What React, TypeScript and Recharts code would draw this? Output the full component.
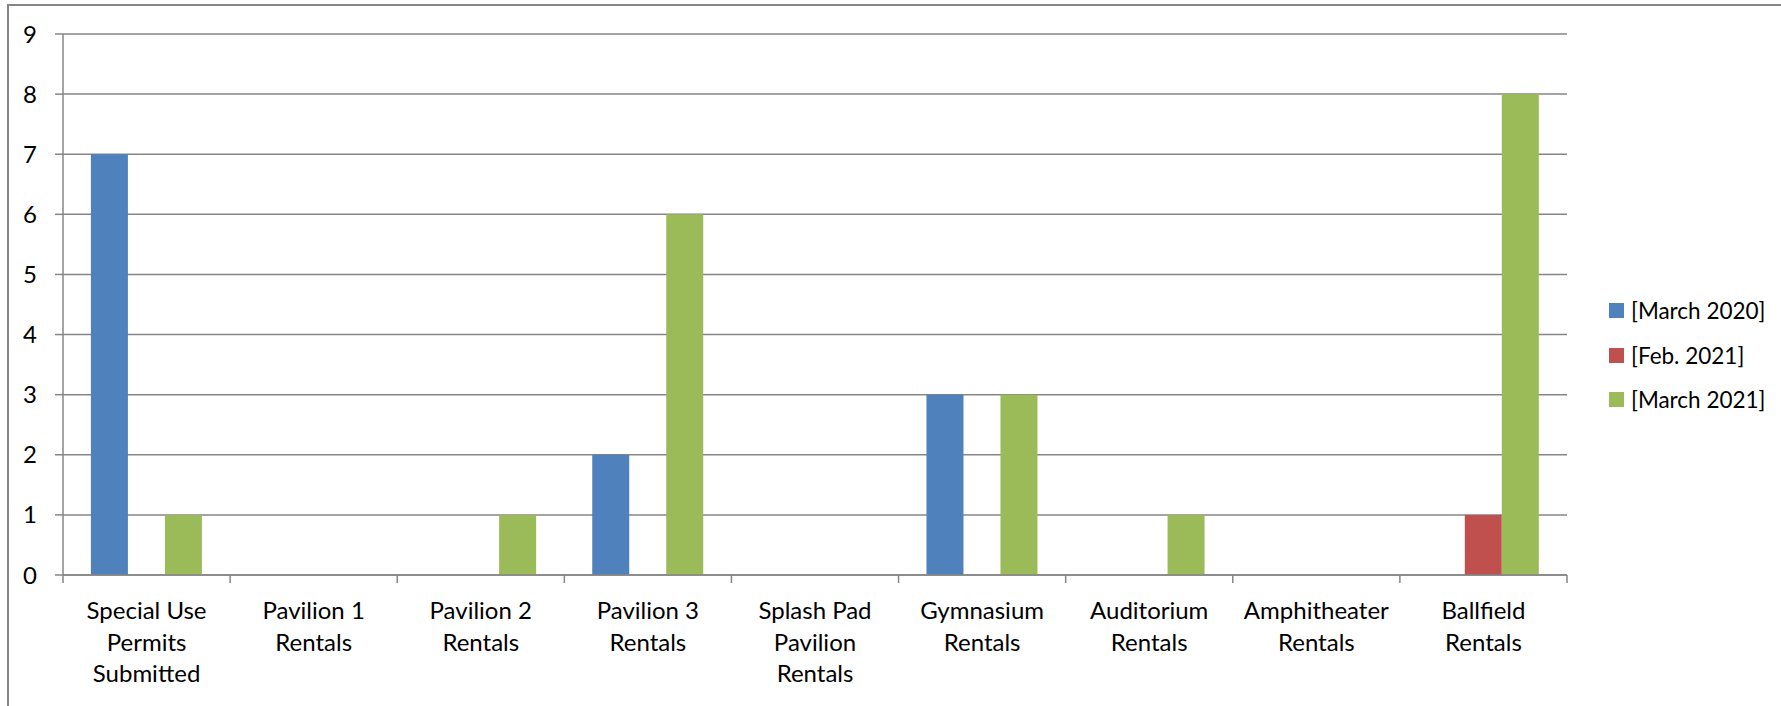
import React from 'react';
import { Bar, BarChart, CartesianGrid, XAxis, YAxis } from 'recharts';

const categories = [
    'Special Use\nPermits\nSubmitted',
    'Pavilion 1\nRentals',
    'Pavilion 2\nRentals',
    'Pavilion 3\nRentals',
    'Splash Pad\nPavilion\nRentals',
    'Gymnasium\nRentals',
    'Auditorium\nRentals',
    'Amphitheater\nRentals',
    'Ballfield\nRentals',
];
const march2020 = [7, 0, 0, 2, 0, 3, 0, 0, 0];
const feb2021 = [0, 0, 0, 0, 0, 0, 0, 0, 1];
const march2021 = [1, 0, 1, 6, 0, 3, 1, 0, 8];
const yTicks = [0, 1, 2, 3, 4, 5, 6, 7, 8, 9];

const series = [
    { key: 'march2020', name: '[March 2020]', color: '#4F81BD', values: march2020 },
    { key: 'feb2021', name: '[Feb. 2021]', color: '#C0504D', values: feb2021 },
    { key: 'march2021', name: '[March 2021]', color: '#9BBB59', values: march2021 },
];

const data = categories.map((name, i) => {
    const row: Record<string, string | number> = { name };
    series.forEach(s => { row[s.key] = s.values[i]; });
    return row;
});

const FONT = 'Lato, "Open Sans", sans-serif';
const AXIS = '#868686';
const TICK = 8;
const TICK_MARGIN = 19;
const LINE_H = 31.7;

// category labels, plus tick marks on the band edges like Excel draws them
const CategoryTick = (props: any) => {
    const { x, y, payload, index, visibleTicksCount } = props;
    const half = payload.offset || 0;
    const axisY = y - TICK - TICK_MARGIN;
    const lines = String(payload.value).split('\n');
    return (
        <g>
            <line x1={x - half} x2={x - half} y1={axisY} y2={axisY + TICK} stroke={AXIS} strokeWidth={1.5} />
            {index === visibleTicksCount - 1 && (
                <line x1={x + half} x2={x + half} y1={axisY} y2={axisY + TICK} stroke={AXIS} strokeWidth={1.5} />
            )}
            <text x={x} y={y + 16.8} textAnchor="middle" fill="#000" style={{ fontFamily: FONT, fontSize: 24 }}>
                {lines.map((l, i) => (
                    <tspan key={i} x={x} dy={i === 0 ? 0 : LINE_H}>{l}</tspan>
                ))}
            </text>
        </g>
    );
};

const App: React.FC = () => {
    return (
        <div style={{ position: 'absolute', left: 0, top: 0, width: 1781, height: 706, overflow: 'hidden', background: '#fff' }}>
            <div style={{ position: 'absolute', left: 7, top: 4, width: 1800, height: 720, border: `2px solid ${AXIS}` }} />
            <div style={{ position: 'absolute', left: 0, top: 0 }}>
                <BarChart
                    width={1781}
                    height={706}
                    data={data}
                    margin={{ top: 34, right: 214, bottom: 31, left: 13 }}
                    barCategoryGap="16.7%"
                    barGap={0}
                >
                    <CartesianGrid vertical={false} stroke={AXIS} strokeWidth={1.5} />
                    <XAxis
                        dataKey="name"
                        interval={0}
                        height={100}
                        tickSize={TICK}
                        tickMargin={TICK_MARGIN}
                        tickLine={false}
                        axisLine={{ stroke: AXIS, strokeWidth: 1.5 }}
                        tick={<CategoryTick />}
                    />
                    <YAxis
                        width={50}
                        domain={[0, 9]}
                        ticks={yTicks}
                        interval={0}
                        tickSize={TICK}
                        tickMargin={18}
                        axisLine={{ stroke: AXIS, strokeWidth: 1.5 }}
                        tickLine={{ stroke: AXIS, strokeWidth: 1.5 }}
                        tick={{ fill: '#000', fontSize: 24, fontFamily: FONT }}
                    />
                    {series.map(s => (
                        <Bar key={s.key} dataKey={s.key} name={s.name} fill={s.color} isAnimationActive={false} />
                    ))}
                </BarChart>
            </div>
            <div style={{ position: 'absolute', left: 1609, top: 288, fontFamily: FONT, fontSize: 22.5, color: '#000' }}>
                {series.map(s => (
                    <div key={s.key} style={{ display: 'flex', alignItems: 'center', height: 44.7 }}>
                        <span style={{ display: 'inline-block', width: 15, height: 15, background: s.color, marginRight: 7 }} />
                        <span style={{ whiteSpace: 'nowrap' }}>{s.name}</span>
                    </div>
                ))}
            </div>
        </div>
    );
};

export default App;
